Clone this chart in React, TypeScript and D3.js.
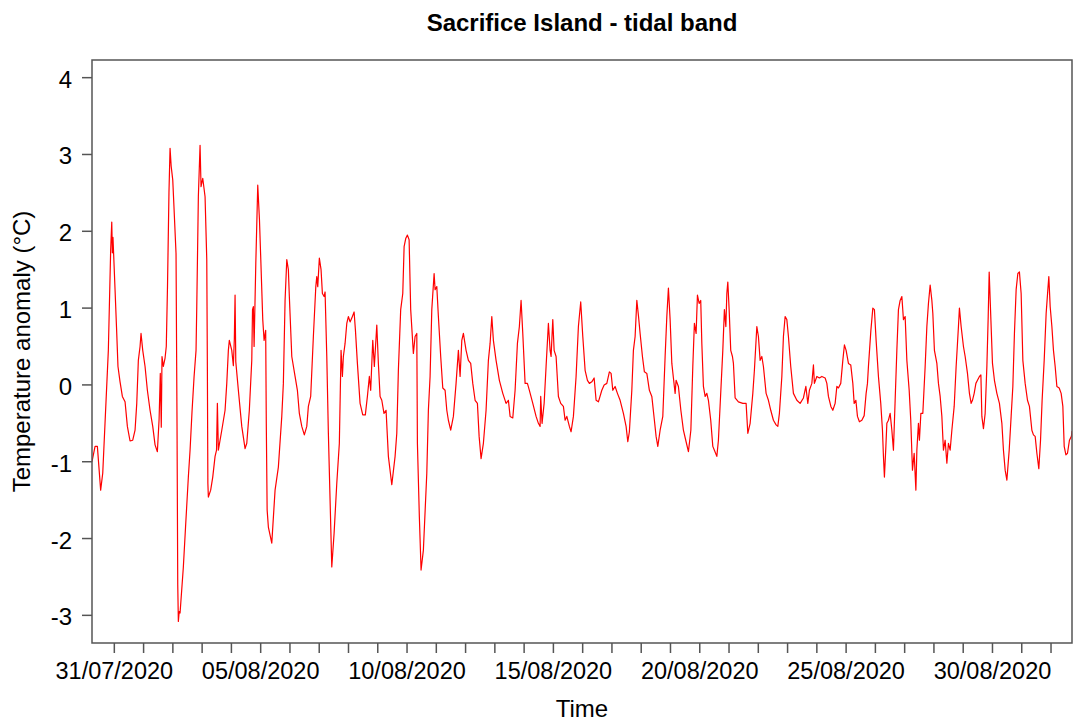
import React from "react";
import * as d3 from "d3";

// hours since 30/07/2020 00:00 UTC, temperature anomaly (°C)
const START_UTC = Date.UTC(2020, 6, 30);

const partJul30toAug06: [number, number][] = [
  [5.7,-1.00],[8.2,-0.80],[10.1,-0.80],[12.8,-1.37],[14.5,-1.15],[19.1,0.45],[21.0,1.75],[21.9,2.12],[22.4,1.72],[22.9,1.92],[24.6,1.24],[25.8,0.75],[27.0,0.24],[28.7,0.04],[30.6,-0.15],[32.8,-0.22],[34.7,-0.54],[36.9,-0.73],[39.1,-0.72],[41.0,-0.59],[42.4,-0.24],[43.7,0.32],[45.1,0.50],[45.9,0.67],[47.3,0.45],[49.2,0.24],[51.1,-0.07],[53.3,-0.33],[55.5,-0.54],[57.4,-0.78],[59.3,-0.87],[60.7,-0.45],[61.7,0.15],[62.5,-0.55],[63.1,0.37],[64.2,0.24],[65.6,0.35],[66.6,0.50],[67.6,1.28],[68.8,2.50],[69.7,3.08],[70.6,2.85],[71.9,2.67],[72.9,2.32],[74.6,1.71],[75.4,-0.50],[76.0,-2.60],[76.5,-3.08],[77.2,-2.95],[77.9,-2.97],[80.6,-2.37],[82.4,-1.85],[84.7,-1.20],[86.1,-0.85],[87.7,-0.35],[89.4,0.11],[91.0,0.45],[91.6,1.02],[92.9,2.45],[94.3,3.12],[95.1,2.58],[96.5,2.69],[98.4,2.45],[99.8,1.63],[100.3,0.19],[100.7,-1.28],[101.1,-1.46],[103.0,-1.37],[104.7,-1.20],[106.6,-0.93],[107.8,-0.85],[108.5,-0.24],[109.3,-0.85],[112.1,-0.59],[114.8,-0.33],[116.2,0.02],[117.5,0.45],[118.3,0.58],[120.3,0.45],[121.6,0.25],[122.4,0.60],[123.0,1.17],[123.6,0.30],[125.7,-0.07],[128.5,-0.54],[131.2,-0.83],[132.6,-0.76],[134.7,-0.33],[136.7,0.32],[137.3,0.98],[138.0,1.02],[138.6,0.50],[140.0,1.58],[141.6,2.60],[143.0,2.15],[144.1,1.63],[145.7,0.85],[146.8,0.58],[148.1,0.71],[148.6,-0.50],[149.3,-1.63],[150.3,-1.85],[153.1,-2.06],[155.8,-1.37],[158.5,-1.07],[161.3,-0.41],[162.6,0.02],[164.0,1.10],[165.4,1.63],[166.7,1.50],[167.5,1.15],
];

const partAug06toAug13: [number, number][] = [
  [169.5,0.37],[172.2,0.11],[174.1,-0.07],[175.7,-0.37],[177.7,-0.54],[179.8,-0.65],[181.8,-0.54],[183.1,-0.28],[185.0,-0.15],[187.2,0.63],[189.2,1.28],[190.0,1.41],[190.8,1.28],[192.1,1.65],[193.5,1.50],[194.6,1.19],[196.0,1.15],[196.8,1.21],[198.2,0.37],[199.5,-0.63],[200.9,-1.50],[202.3,-2.37],[204.2,-1.93],[206.4,-1.28],[208.5,-0.76],[209.9,0.45],[211.0,0.11],[211.8,0.37],[213.2,0.54],[214.6,0.80],[215.9,0.89],[217.3,0.82],[218.7,0.87],[220.6,0.95],[221.7,0.71],[223.3,0.28],[225.5,-0.24],[227.7,-0.39],[229.8,-0.39],[231.5,-0.15],[233.1,0.11],[234.2,-0.07],[235.9,0.58],[237.2,0.24],[239.2,0.78],[240.5,0.28],[241.9,-0.15],[243.3,-0.20],[245.1,-0.37],[246.8,-0.33],[248.7,-0.93],[251.5,-1.30],[254.2,-0.93],[255.6,-0.63],[256.9,0.19],[258.8,0.98],[260.5,1.19],[261.6,1.80],[263.0,1.91],[264.3,1.95],[265.7,1.89],[267.0,0.98],[269.2,0.41],[270.6,0.63],[272.0,0.67],[272.5,-0.76],[274.1,-1.72],[275.5,-2.41],[277.4,-2.15],[280.2,-1.15],[281.5,-0.33],[282.9,0.11],[284.3,0.98],[286.2,1.45],[287.0,1.24],[288.4,1.28],[289.7,0.89],[291.6,0.37],[293.3,-0.04],[295.2,-0.07],[296.6,-0.33],[297.9,-0.46],[299.8,-0.59],[302.0,-0.41],[304.2,0.02],[306.1,0.45],[307.5,0.11],[308.9,0.58],[310.2,0.67],[312.4,0.45],[314.3,0.32],[316.2,0.28],[317.9,0.02],[319.8,-0.20],[321.7,-0.24],[323.1,-0.67],[324.7,-0.96],[326.6,-0.76],[328.8,-0.33],[330.7,0.32],[332.1,0.54],[333.5,0.89],[334.8,0.58],[337.0,0.32],[339.7,0.06],
];

const partAug13toAug20: [number, number][] = [
  [342.5,-0.11],[345.2,-0.24],[347.1,-0.20],[348.5,-0.41],[350.7,-0.43],[352.6,-0.07],[354.5,0.54],[356.1,0.76],[357.5,1.10],[358.9,0.67],[360.8,0.02],[362.7,0.02],[364.3,-0.07],[367.1,-0.24],[369.8,-0.41],[371.7,-0.50],[373.1,-0.54],[373.6,-0.15],[374.7,-0.50],[376.4,-0.24],[378.0,0.24],[379.9,0.80],[381.3,0.45],[382.1,0.37],[383.5,0.85],[384.6,0.45],[386.2,0.37],[388.1,-0.15],[390.0,-0.24],[392.2,-0.28],[393.6,-0.46],[395.0,-0.41],[397.1,-0.54],[398.5,-0.61],[400.4,-0.41],[402.6,0.11],[404.5,0.76],[406.4,1.08],[408.1,0.63],[410.0,0.19],[411.9,0.06],[413.5,0.02],[415.5,0.04],[417.4,0.09],[419.0,-0.20],[420.9,-0.22],[423.7,-0.07],[425.6,0.00],[427.8,0.02],[429.9,0.17],[431.3,0.15],[432.7,-0.07],[434.6,-0.02],[436.5,-0.11],[438.7,-0.20],[441.4,-0.37],[443.6,-0.54],[445.0,-0.74],[446.3,-0.61],[448.3,-0.07],[449.6,0.45],[451.0,0.63],[452.4,1.10],[453.8,0.89],[455.1,0.67],[457.0,0.37],[458.6,0.17],[460.6,0.15],[462.7,-0.07],[464.7,-0.15],[466.8,-0.46],[468.2,-0.67],[469.6,-0.80],[471.5,-0.59],[473.7,-0.41],[475.6,0.37],[477.0,0.89],[478.3,1.26],[479.7,0.85],[481.1,0.28],[482.4,0.09],[483.8,-0.11],[484.6,0.06],[486.5,-0.02],[488.5,-0.33],[490.6,-0.59],[492.8,-0.74],[494.7,-0.87],[496.7,-0.59],[498.3,0.24],
];

const partAug20toAug27: [number, number][] = [
  [499.6,0.80],[501.0,0.67],[502.1,1.17],[503.5,1.06],[504.8,1.10],[505.7,0.54],[507.0,-0.02],[508.4,-0.15],[509.8,-0.11],[511.1,-0.20],[513.0,-0.46],[514.7,-0.80],[516.0,-0.85],[518.0,-0.93],[519.3,-0.72],[521.3,-0.07],[522.9,0.45],[524.2,0.98],[525.4,0.76],[526.2,1.19],[527.0,1.34],[528.1,0.98],[529.4,0.45],[530.8,0.37],[531.6,0.28],[533.0,-0.17],[535.7,-0.22],[539.3,-0.24],[542.0,-0.24],[543.4,-0.63],[545.3,-0.50],[547.5,-0.11],[548.8,0.19],[550.8,0.76],[552.1,0.63],[553.5,0.32],[554.9,0.37],[556.2,0.24],[558.4,-0.11],[560.3,-0.20],[562.2,-0.33],[564.4,-0.46],[566.6,-0.52],[568.0,-0.54],[569.3,-0.37],[571.3,0.11],[572.6,0.63],[574.0,0.89],[575.4,0.85],[576.7,0.63],[578.6,0.24],[580.8,-0.11],[583.6,-0.20],[586.3,-0.24],[589.0,-0.17],[591.0,-0.02],[592.6,-0.24],[593.9,-0.07],[595.9,0.02],[597.2,0.26],[598.0,0.02],[600.0,0.11],[602.1,0.09],[604.1,0.11],[606.8,0.09],[608.2,0.02],[609.5,-0.15],[611.5,-0.28],[613.1,-0.33],[615.0,-0.24],[616.4,-0.02],[617.7,-0.04],[619.6,0.02],[621.3,0.32],[622.6,0.52],[624.0,0.45],[625.9,0.28],[627.8,0.26],[629.5,0.02],[630.6,-0.24],[632.0,-0.20],[633.3,-0.41],[634.9,-0.48],[636.9,-0.46],[638.8,-0.40],[640.4,-0.11],[641.5,0.02],[642.3,0.24],[644.3,0.71],[645.9,1.00],[647.2,0.98],[648.6,0.58],[650.5,0.11],[652.4,-0.24],[653.8,-0.59],[654.6,-0.93],[655.4,-1.20],[656.6,-0.80],[657.4,-0.50],[658.7,-0.46],[660.1,-0.37],[661.5,-0.59],[662.8,-0.85],[664.2,-0.20],[665.6,0.45],[666.9,0.98],[668.3,1.10],[669.7,1.15],[671.0,0.85],[672.4,0.89],[673.8,0.32],
];

const partAug27toSep01: [number, number][] = [
  [675.7,-0.07],[677.0,-0.46],[678.4,-1.11],[679.8,-0.89],[681.2,-1.37],[682.0,-0.85],[683.3,-0.50],[684.1,-0.72],[685.3,-0.37],[686.9,-0.37],[688.8,0.24],[690.2,0.76],[691.5,1.06],[692.9,1.30],[694.3,1.10],[695.1,0.93],[696.4,0.45],[698.4,0.28],[699.7,0.02],[701.1,-0.15],[702.5,-0.41],[703.8,-0.85],[705.2,-0.72],[706.6,-1.02],[707.9,-0.76],[709.3,-0.85],[710.7,-0.59],[712.6,-0.28],[714.2,0.24],[715.3,0.54],[716.1,0.76],[716.9,1.00],[718.3,0.76],[720.2,0.50],[721.6,0.37],[723.5,0.15],[725.1,-0.11],[726.5,-0.24],[727.6,-0.20],[729.0,-0.11],[730.4,0.02],[731.7,0.06],[733.3,0.11],[734.5,0.13],[735.3,-0.41],[736.6,-0.57],[738.0,-0.37],[739.4,0.24],[740.5,0.89],[741.3,1.47],[742.4,0.98],[744.0,0.28],[745.6,0.06],[747.6,-0.11],[749.7,-0.24],[751.7,-0.50],[753.0,-0.85],[754.4,-1.11],[755.8,-1.24],[757.7,-0.85],[759.3,-0.41],[760.7,-0.02],[762.0,0.67],[763.4,1.24],[764.8,1.45],[766.1,1.47],[767.5,1.19],[768.9,0.32],[770.8,0.02],[772.7,-0.20],[774.3,-0.28],[776.3,-0.59],[777.6,-0.65],[779.0,-0.67],[780.4,-0.89],[782.0,-1.09],[783.4,-0.72],[784.7,-0.20],[786.4,0.32],[788.0,0.93],[789.4,1.24],[790.2,1.41],[791.3,1.02],[792.7,0.76],[794.0,0.45],[795.4,0.24],[796.8,-0.02],[798.7,-0.04],[800.3,-0.11],[801.7,-0.28],[802.8,-0.80],[804.2,-0.91],[805.5,-0.89],[807.1,-0.72],[808.7,-0.67],[809.2,-0.60],
];

const yTickValues = [-3, -2, -1, 0, 1, 2, 3, 4];
const labelledDates = ["31/07/2020", "05/08/2020", "10/08/2020", "15/08/2020", "20/08/2020", "25/08/2020", "30/08/2020"];
const chartTitle = "Sacrifice Island - tidal band";
const xAxisTitle = "Time";
const yAxisTitle = "Temperature anomaly (°C)";

const FONT = "'Liberation Sans', Arial, Helvetica, sans-serif";

export default function App() {
  const W = 1073, H = 722;
  const left = 92, right = 1072, top = 60, bottom = 643;
  const toDate = (h: number) => new Date(START_UTC + h * 3600e3);

  const series = [
    ...partJul30toAug06,
    ...partAug06toAug13,
    ...partAug13toAug20,
    ...partAug20toAug27,
    ...partAug27toSep01,
  ].map(([h, v]) => ({ t: toDate(h), v }));

  const x = d3.scaleUtc().domain([toDate(5.7), toDate(809.2)]).range([left, right]);
  const y = d3.scaleLinear().domain([-3.36, 4.23]).range([bottom, top]);

  const line = d3
    .line<{ t: Date; v: number }>()
    .x((d) => x(d.t))
    .y((d) => y(d.v));

  const dayTicks = d3.utcDay.range(new Date(Date.UTC(2020, 6, 31)), new Date(Date.UTC(2020, 8, 2)));
  const fmt = d3.utcFormat("%d/%m/%Y");
  const axisColor = "#555";

  return (
    <svg width={W} height={H} style={{ position: "absolute", left: 0, top: 0, background: "#fff" }} fontFamily={FONT}>
      <rect x={0} y={0} width={W} height={H} fill="#fff" />
      <text x={(left + right) / 2} y={31} textAnchor="middle" fontWeight="bold" fontSize={24} fill="#000">
        {chartTitle}
      </text>
      <defs>
        <clipPath id="plotclip">
          <rect x={left} y={top} width={right - left} height={bottom - top} />
        </clipPath>
      </defs>
      <path d={line(series) || ""} fill="none" stroke="#ff0000" strokeWidth={1.2} clipPath="url(#plotclip)" strokeLinejoin="round" />
      <rect x={left} y={top} width={right - left} height={bottom - top} fill="none" stroke={axisColor} strokeWidth={1.5} />
      {yTickValues.map((v) => (
        <g key={v}>
          <line x1={left - 10} x2={left} y1={y(v)} y2={y(v)} stroke={axisColor} strokeWidth={1.5} />
          <text x={72} y={y(v) + 10} textAnchor="end" fontSize={24} fill="#000">
            {v}
          </text>
        </g>
      ))}
      {dayTicks.map((d) => {
        const lab = fmt(d);
        const show = labelledDates.includes(lab);
        return (
          <g key={lab}>
            <line x1={x(d)} x2={x(d)} y1={bottom} y2={bottom + 10} stroke={axisColor} strokeWidth={1.5} />
            {show && (
              <text x={x(d)} y={679} textAnchor="middle" fontSize={23.5} fill="#000">
                {lab}
              </text>
            )}
          </g>
        );
      })}
      <text x={(left + right) / 2} y={717} textAnchor="middle" fontSize={24} fill="#000">
        {xAxisTitle}
      </text>
      <text transform={`translate(30, ${(top + bottom) / 2}) rotate(-90)`} textAnchor="middle" fontSize={24} fill="#000">
        {yAxisTitle}
      </text>
    </svg>
  );
}
